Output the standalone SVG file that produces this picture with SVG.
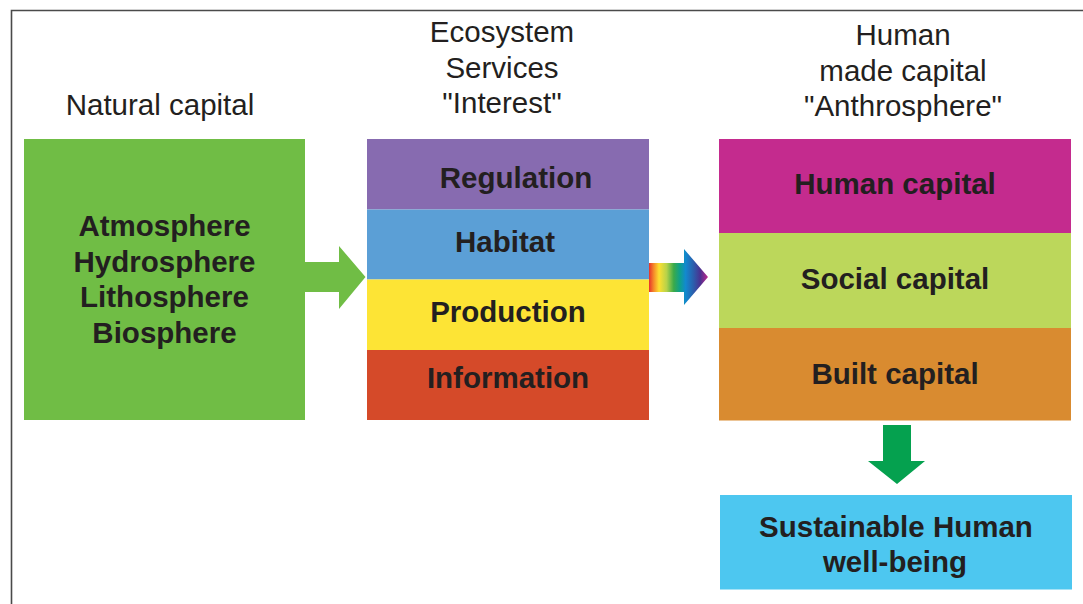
<svg xmlns="http://www.w3.org/2000/svg" width="1083" height="604" viewBox="0 0 1083 604">
  <style>
    .hdr { font-family: "Liberation Sans", Arial, sans-serif; font-size: 29.5px; fill: #231f20; text-anchor: middle; }
    .lbl { font-family: "Liberation Sans", Arial, sans-serif; font-size: 29.5px; font-weight: bold; fill: #231f20; text-anchor: middle; }
    .frame { fill: none; stroke: #4a4a4a; stroke-width: 1.6; }
  </style>
  <defs>
    <linearGradient id="rainbow" gradientUnits="userSpaceOnUse" x1="649" y1="0" x2="708" y2="0">
      <stop offset="0" stop-color="#e7322c"/>
      <stop offset="0.08" stop-color="#f58a2a"/>
      <stop offset="0.17" stop-color="#fde030"/>
      <stop offset="0.3" stop-color="#b6d24a"/>
      <stop offset="0.42" stop-color="#3aaa4a"/>
      <stop offset="0.52" stop-color="#0ea18a"/>
      <stop offset="0.62" stop-color="#1289cf"/>
      <stop offset="0.75" stop-color="#2b5fad"/>
      <stop offset="0.87" stop-color="#4b3190"/>
      <stop offset="1" stop-color="#c0288c"/>
    </linearGradient>
  </defs>

  <rect width="1083" height="604" fill="#ffffff"/>
  <!-- frame: top and left edges -->
  <path class="frame" d="M1083,10.5 H11.5 V604"/>

  <!-- column headers -->
  <g id="headers">
    <text class="hdr" x="160" y="115">Natural capital</text>
    <text class="hdr" x="502" y="42">Ecosystem</text>
    <text class="hdr" x="502" y="78">Services</text>
    <text class="hdr" x="502" y="113">"Interest"</text>
    <text class="hdr" x="903" y="45">Human</text>
    <text class="hdr" x="903" y="81">made capital</text>
    <text class="hdr" x="903" y="116">"Anthrosphere"</text>
  </g>

  <!-- natural capital -->
  <g id="natural-capital">
    <rect x="24" y="139" width="281" height="281" fill="#70bd45"/>
    <text class="lbl" x="164.5" y="236">Atmosphere</text>
    <text class="lbl" x="164.5" y="272">Hydrosphere</text>
    <text class="lbl" x="164.5" y="307">Lithosphere</text>
    <text class="lbl" x="164.5" y="343">Biosphere</text>
  </g>

  <!-- ecosystem services -->
  <g id="ecosystem-services">
    <rect x="367" y="139" width="282" height="70.5" fill="#876bb0"/>
    <rect x="367" y="209.5" width="282" height="70" fill="#5b9fd6"/>
    <rect x="367" y="279.5" width="282" height="70.5" fill="#fde435"/>
    <rect x="367" y="350" width="282" height="70" fill="#d54a29"/>
    <text class="lbl" x="516" y="188">Regulation</text>
    <text class="lbl" x="505" y="252">Habitat</text>
    <text class="lbl" x="508" y="322">Production</text>
    <text class="lbl" x="508" y="388">Information</text>
  </g>

  <!-- human made capital -->
  <g id="human-made-capital">
    <rect x="719" y="139" width="352" height="94" fill="#c42b8e"/>
    <rect x="719" y="233" width="352" height="95" fill="#bcd75b"/>
    <rect x="719" y="328" width="352" height="92.5" fill="#d98b30"/>
    <text class="lbl" x="895" y="194">Human capital</text>
    <text class="lbl" x="895" y="289">Social capital</text>
    <text class="lbl" x="895" y="384">Built capital</text>
  </g>

  <!-- outcome -->
  <g id="well-being">
    <rect x="720" y="495" width="352" height="94.5" fill="#4dc7f0"/>
    <text class="lbl" x="896" y="537">Sustainable Human</text>
    <text class="lbl" x="895" y="572">well-being</text>
  </g>

  <!-- connectors -->
  <g id="connectors">
    <path d="M305,262 H339 V246 L365.5,277 L339,309 V292 H305 Z" fill="#70bd45"/>
    <path d="M649,263 H684 V249 L708,277 L684,305 V292 H649 Z" fill="url(#rainbow)"/>
    <path d="M883,425 H911 V461 H925 L897,484 L868,461 H883 Z" fill="#05a14f"/>
  </g>
</svg>
